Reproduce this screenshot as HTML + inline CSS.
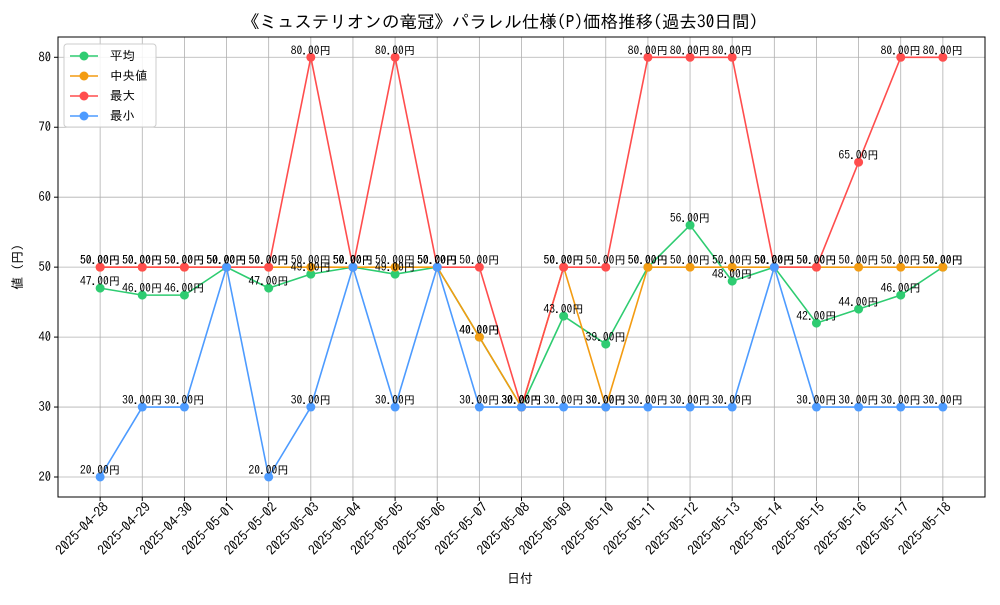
<!DOCTYPE html>
<html><head><meta charset="utf-8"><style>
html,body{margin:0;padding:0;background:#fff;}
svg text{font-family:"IPAGothic","Noto Sans CJK JP","Liberation Sans",sans-serif;}
</style></head><body>
<svg id="chart" width="1000" height="600" xmlns="http://www.w3.org/2000/svg">
<rect width="1000" height="600" fill="#fff"/>
<text x="500" y="28" text-anchor="middle" font-size="17.5">《ミュステリオンの竜冠》パラレル仕様(P)価格推移(過去30日間)</text>
<g id="grid"></g><g id="axes"></g><g id="series"></g><g id="labels"></g>
<text x="520" y="583" text-anchor="middle" font-size="13">日付</text>
<text transform="translate(22,267) rotate(-90)" text-anchor="middle" font-size="13">値 (円)</text>
<g id="legend"></g>
</svg>
<script>
const dates=["2025-04-28","2025-04-29","2025-04-30","2025-05-01","2025-05-02","2025-05-03","2025-05-04","2025-05-05","2025-05-06","2025-05-07","2025-05-08","2025-05-09","2025-05-10","2025-05-11","2025-05-12","2025-05-13","2025-05-14","2025-05-15","2025-05-16","2025-05-17","2025-05-18"];
const avgValues=[47,46,46,50,47,49,50,49,50,40,30,43,39,50,56,48,50,42,44,46,50];
const medianValues=[50,50,50,50,50,50,50,50,50,40,30,50,30,50,50,50,50,50,50,50,50];
const maxValues=[50,50,50,50,50,80,50,80,50,50,30,50,50,80,80,80,50,50,65,80,80];
const minValues=[20,30,30,50,20,30,50,30,50,30,30,30,30,30,30,30,50,30,30,30,30];
const yTicks=[20,30,40,50,60,70,80];
const seriesNames=["平均","中央値","最大","最小"];
const seriesColors=["#2ecc71","#f39c12","#ff4d4d","#4d9bff"];
const L=58,R=985,T=37,B=497,yMin=17.14,yMax=82.9;
const xs=i=>L+(i+1)*(R-L)/(dates.length+1);
const ys=v=>B-(v-yMin)*(B-T)/(yMax-yMin);
const NS="http://www.w3.org/2000/svg";
function mk(tag,attrs,parent){const e=document.createElementNS(NS,tag);for(const k in attrs)e.setAttribute(k,attrs[k]);parent.appendChild(e);return e;}
const grid=document.getElementById('grid'),axes=document.getElementById('axes');
yTicks.forEach(v=>{
 const g=mk('line',{x1:L,x2:R,y1:ys(v),y2:ys(v),stroke:'#b0b0b0','stroke-width':0.8},grid);
 
 
 mk('line',{x1:L-4,x2:L,y1:ys(v),y2:ys(v),stroke:'#000'},axes);
 const t=mk('text',{x:L-7,y:ys(v)+4,'text-anchor':'end','font-size':12.5},axes);
 t.textContent=v;
 
 
});
dates.forEach((d,i)=>{
 const x=xs(i);
 const g=mk('line',{x1:x,x2:x,y1:T,y2:B,stroke:'#b0b0b0','stroke-width':0.8},grid);
 
 
 mk('line',{x1:x,x2:x,y1:B,y2:B+4,stroke:'#000'},axes);
 const ax=x+9,ay=B+11;
 const t=mk('text',{x:ax,y:ay,'text-anchor':'end','font-size':13.5,transform:`rotate(-45 ${ax} ${ay})`},axes);
 t.textContent=d;
 
 
});
const frame=mk('rect',{x:L,y:T,width:R-L,height:B-T,fill:'none',stroke:'#000','stroke-width':1},axes);


const allSeries=[avgValues,medianValues,maxValues,minValues];
const sg=document.getElementById('series'),lg=document.getElementById('labels');
allSeries.forEach((vals,s)=>{
 const p=mk('polyline',{points:vals.map((v,i)=>xs(i)+','+ys(v)).join(' '),fill:'none',stroke:seriesColors[s],'stroke-width':1.6},sg);
 
 
 vals.forEach((v,i)=>{
  const c=mk('circle',{cx:xs(i),cy:ys(v),r:4.5,fill:seriesColors[s]},sg);
  
  
  const t=mk('text',{x:xs(i),y:ys(v)-3,'text-anchor':'middle','font-size':11.5},lg);
  t.textContent=v.toFixed(2)+'円';
  
  
 });
});
const leg=document.getElementById('legend');
const lb=mk('rect',{x:64,y:44,width:92,height:83,fill:'#fff','fill-opacity':0.85,stroke:'#ccc',rx:3},leg);


seriesNames.forEach((n,s)=>{
 const y=56+s*20;
 const g=mk('g',{},leg);
 
 
 mk('line',{x1:70,x2:98,y1:y,y2:y,stroke:seriesColors[s],'stroke-width':1.6},g);
 mk('circle',{cx:84,cy:y,r:4.5,fill:seriesColors[s]},g);
 const t=mk('text',{x:110,y:y+4,'font-size':12.5},g);
 t.textContent=n;
});
</script>
</body></html>
